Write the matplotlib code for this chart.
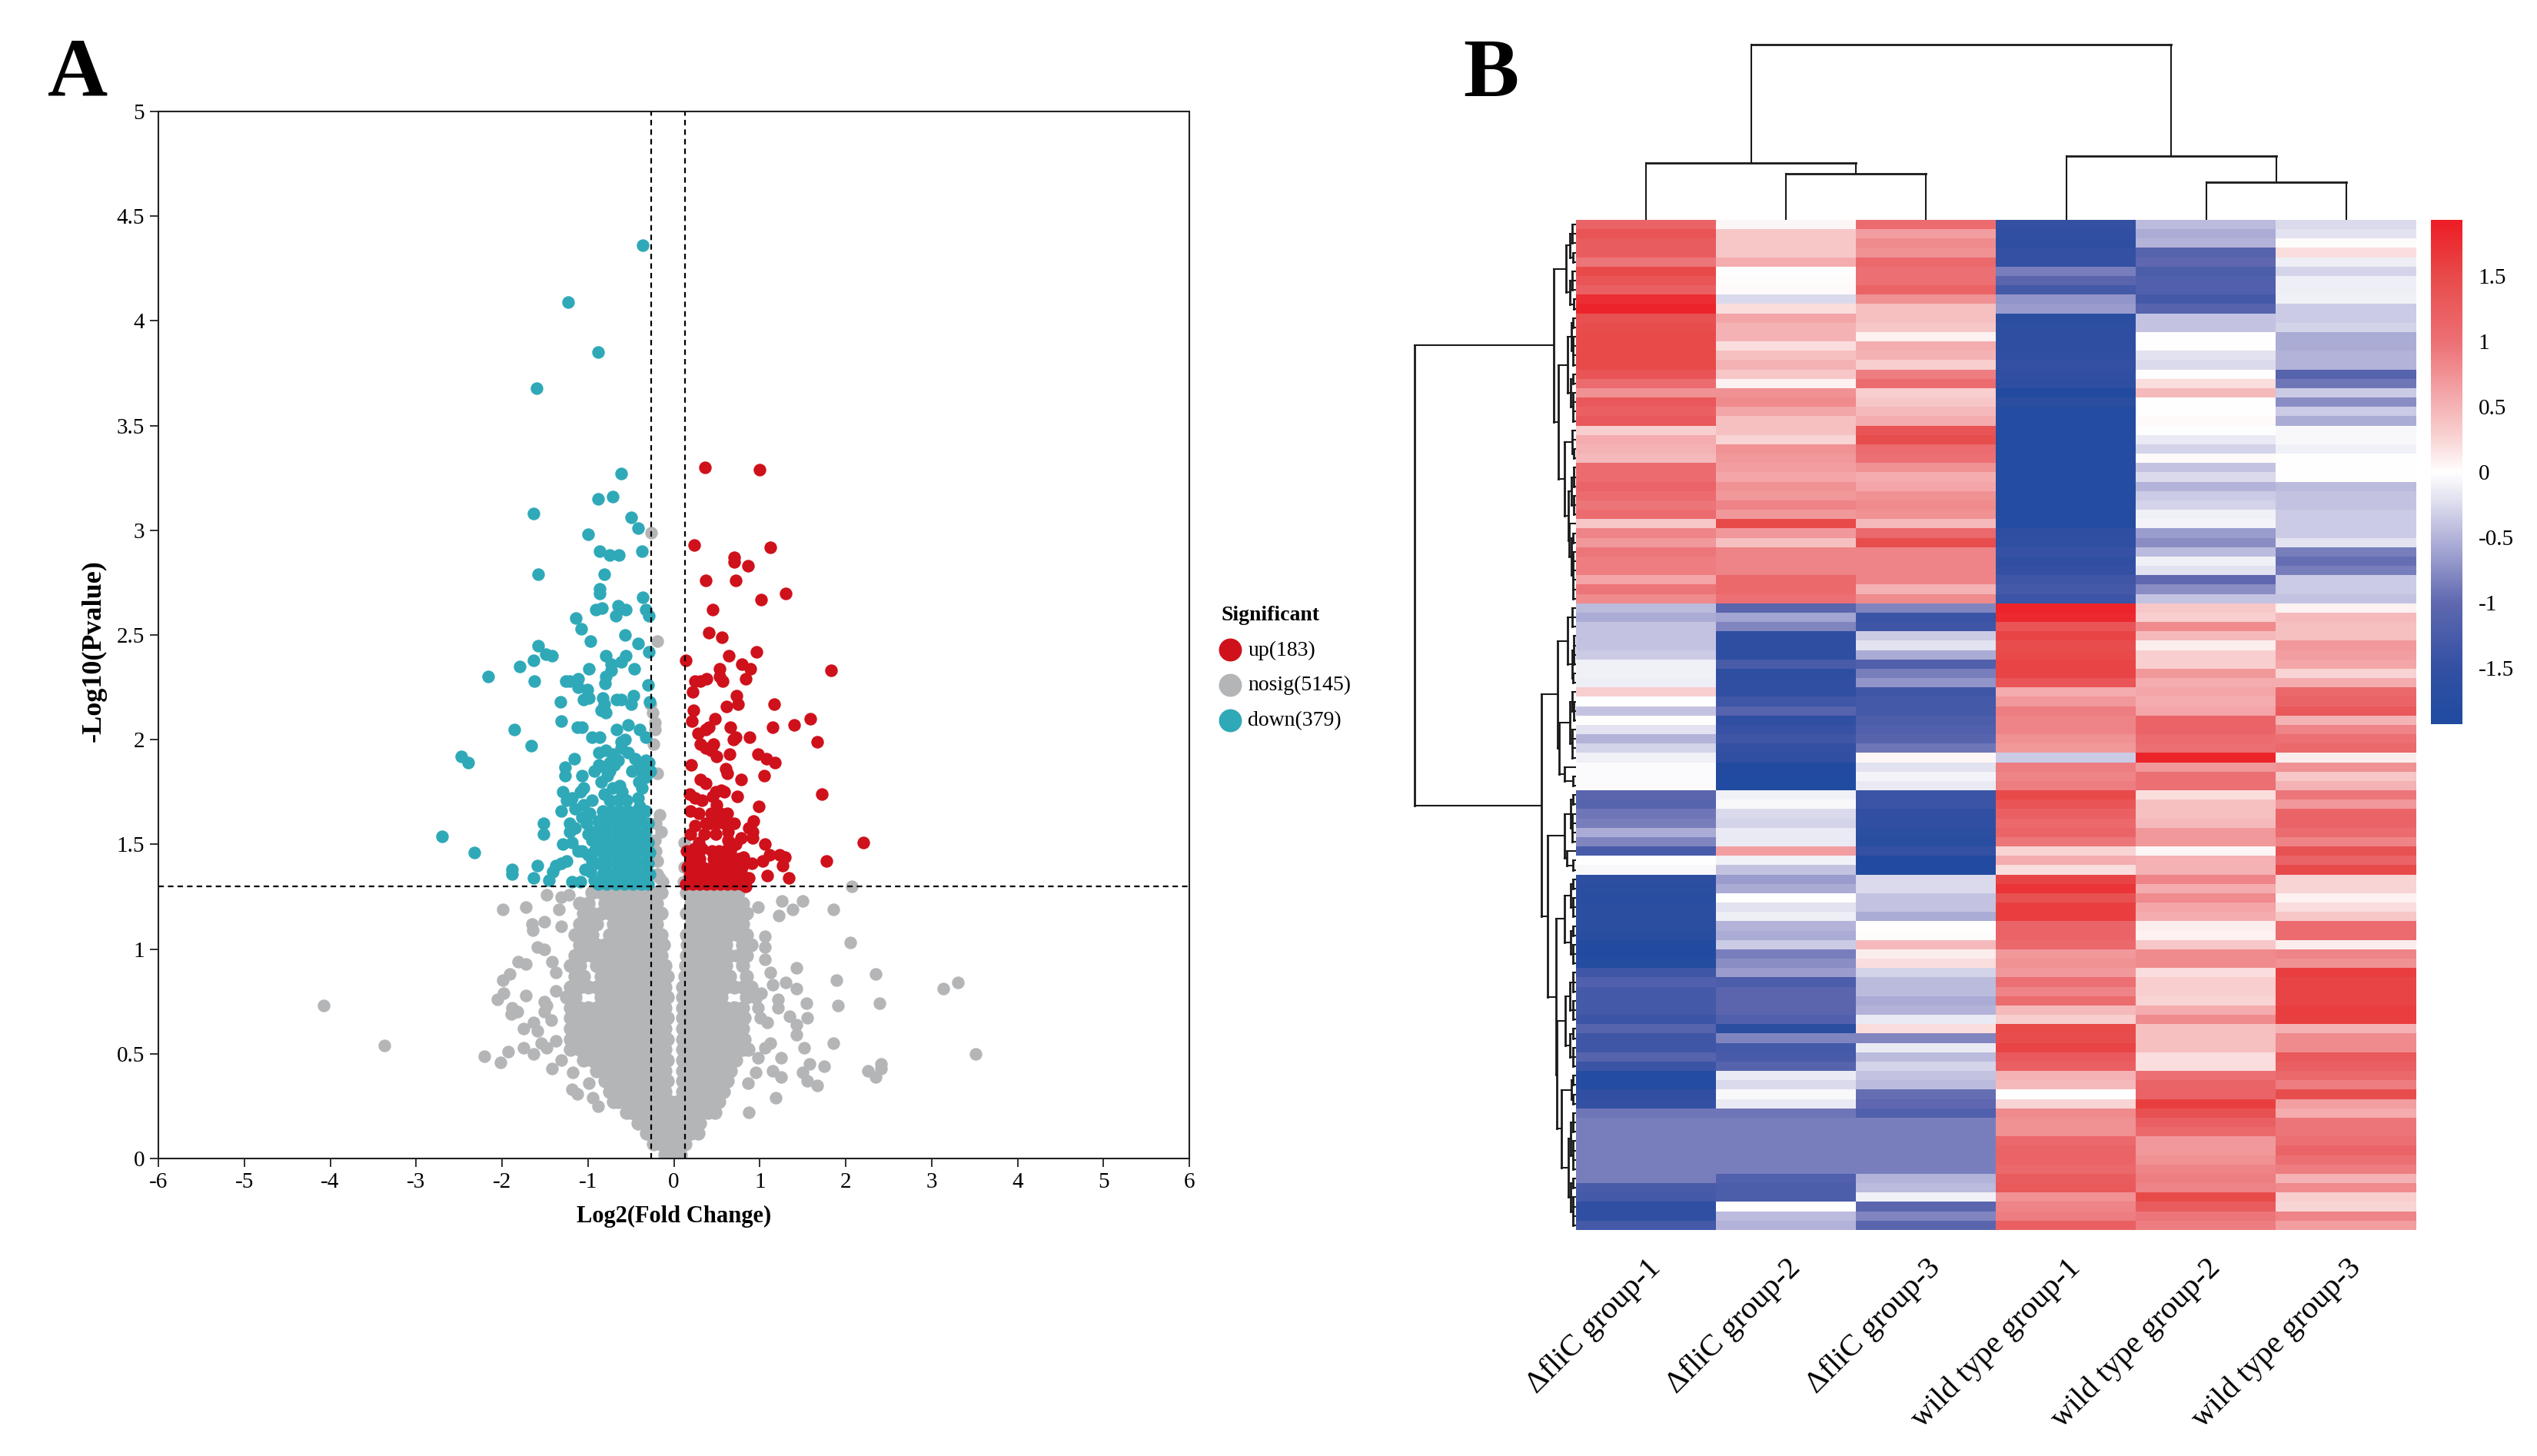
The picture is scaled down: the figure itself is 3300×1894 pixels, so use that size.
import numpy as np
import matplotlib
matplotlib.use("Agg")
import matplotlib.pyplot as plt
from matplotlib.colors import LinearSegmentedColormap

plt.rcParams['font.family'] = ['Liberation Serif', 'DejaVu Serif']

W, H = 3300, 1894

# ---- panel A, values ----
x_ticks = [-6, -5, -4, -3, -2, -1, 0, 1, 2, 3, 4, 5, 6]
x_tick_labels = ['-6', '-5', '-4', '-3', '-2', '-1', '0', '1', '2', '3', '4', '5', '6']
y_ticks = [0, 0.5, 1, 1.5, 2, 2.5, 3, 3.5, 4, 4.5, 5]
y_tick_labels = ['0', '0.5', '1', '1.5', '2', '2.5', '3', '3.5', '4', '4.5', '5']
fc_cuts = [-0.264, 0.134]
p_cut = 1.301
legend_labels = ['up(183)', 'nosig(5145)', 'down(379)']

down_points = [
    (-0.36, 4.36), (-1.23, 4.09), (-0.88, 3.85), (-1.60, 3.68), (-0.61, 3.27), (-0.88, 3.15), (-0.71, 3.16),
    (-1.63, 3.08), (-0.50, 3.06), (-0.42, 3.01), (-1.00, 2.98), (-0.86, 2.90), (-0.75, 2.88), (-0.64, 2.88),
    (-0.37, 2.90), (-1.58, 2.79), (-0.81, 2.79), (-0.86, 2.72), (-0.86, 2.70), (-0.36, 2.68), (-0.91, 2.62),
    (-0.84, 2.63), (-0.65, 2.64), (-0.56, 2.62), (-0.68, 2.59), (-0.33, 2.62), (-0.29, 2.59), (-1.14, 2.58),
    (-1.08, 2.53), (-0.97, 2.47), (-0.57, 2.50), (-0.42, 2.46), (-0.29, 2.42), (-1.58, 2.45), (-1.63, 2.38),
    (-1.49, 2.41), (-1.42, 2.40), (-1.79, 2.35), (-2.16, 2.30), (-1.62, 2.28), (-0.79, 2.40), (-0.56, 2.40),
    (-0.73, 2.36), (-0.61, 2.37), (-0.99, 2.34), (-0.46, 2.34), (-0.73, 2.33), (-0.79, 2.30), (-1.26, 2.28),
    (-1.21, 2.28), (-1.11, 2.29), (-0.80, 2.27), (-1.11, 2.25), (-1.01, 2.24), (-0.30, 2.26), (-0.99, 2.20),
    (-1.05, 2.19), (-0.47, 2.21), (-0.83, 2.20), (-0.81, 2.17), (-0.67, 2.19), (-0.61, 2.19), (-0.50, 2.17),
    (-1.32, 2.18), (-0.28, 2.18), (-0.85, 2.14), (-0.79, 2.13), (-1.31, 2.09), (-1.12, 2.06), (-1.07, 2.06),
    (-0.67, 2.05), (-0.53, 2.07), (-0.40, 2.05), (-1.86, 2.05), (-0.95, 2.01), (-0.86, 2.01), (-0.33, 2.01),
    (-1.66, 1.97), (-0.61, 1.99), (-0.57, 2.00), (-2.47, 1.92), (-2.39, 1.89), (-1.16, 1.91), (-1.27, 1.87),
    (-1.27, 1.83), (-1.07, 1.83), (-0.93, 1.85), (-0.87, 1.88), (-0.81, 1.87), (-0.75, 1.89), (-0.65, 1.90),
    (-0.77, 1.83), (-0.85, 1.80), (-0.71, 1.77), (-0.63, 1.78), (-0.49, 1.85), (-0.41, 1.89), (-0.33, 1.90),
    (-0.27, 1.85), (-0.41, 1.80), (-0.37, 1.77), (-0.87, 1.94), (-0.79, 1.95), (-0.71, 1.93), (-0.61, 1.96),
    (-0.53, 1.94), (-0.45, 1.91), (-0.29, 1.89), (-0.38, 1.85), (-0.33, 1.82), (-0.75, 1.85), (-0.69, 1.88),
    (-1.29, 1.75), (-1.05, 1.77), (-1.09, 1.75), (-1.25, 1.71), (-1.19, 1.72), (-1.15, 1.67), (-1.05, 1.69),
    (-1.31, 1.66), (-1.07, 1.63), (-0.95, 1.71), (-0.81, 1.74), (-1.21, 1.60), (-1.15, 1.58), (-1.21, 1.56),
    (-1.29, 1.50), (-1.19, 1.51), (-1.11, 1.47), (-1.07, 1.47), (-0.95, 1.52), (-0.93, 1.47), (-0.85, 1.53),
    (-1.37, 1.40), (-1.31, 1.41), (-1.25, 1.42), (-1.41, 1.37), (-1.45, 1.33), (-1.19, 1.32), (-1.09, 1.32),
    (-0.97, 1.37), (-0.93, 1.33), (-2.70, 1.54), (-2.32, 1.46), (-1.52, 1.60), (-1.52, 1.55), (-1.88, 1.38),
    (-1.88, 1.36), (-1.59, 1.40), (-1.63, 1.34), (-1.00, 1.45), (-1.00, 1.55), (-0.95, 1.42), (-1.03, 1.38),
    (-1.02, 1.60), (-0.98, 1.65),
    # the solid teal block above the threshold
    (-0.88, 1.31), (-0.78, 1.31), (-0.68, 1.31), (-0.58, 1.31), (-0.48, 1.31), (-0.38, 1.31), (-0.30, 1.31),
    (-0.83, 1.36), (-0.73, 1.36), (-0.63, 1.36), (-0.53, 1.36), (-0.43, 1.36), (-0.33, 1.36), (-0.28, 1.36),
    (-0.88, 1.41), (-0.78, 1.41), (-0.68, 1.41), (-0.58, 1.41), (-0.48, 1.41), (-0.38, 1.41), (-0.30, 1.41),
    (-0.83, 1.46), (-0.73, 1.46), (-0.63, 1.46), (-0.53, 1.46), (-0.43, 1.46), (-0.33, 1.46), (-0.28, 1.46),
    (-0.90, 1.51), (-0.78, 1.51), (-0.68, 1.51), (-0.58, 1.51), (-0.48, 1.51), (-0.38, 1.51), (-0.30, 1.51),
    (-0.93, 1.56), (-0.83, 1.56), (-0.73, 1.56), (-0.63, 1.56), (-0.53, 1.56), (-0.43, 1.56), (-0.33, 1.56),
    (-0.30, 1.60), (-0.88, 1.61), (-0.78, 1.61), (-0.68, 1.61), (-0.58, 1.61), (-0.48, 1.61), (-0.38, 1.61),
    (-0.33, 1.66), (-0.83, 1.66), (-0.73, 1.66), (-0.63, 1.66), (-0.53, 1.66), (-0.43, 1.66), (-0.40, 1.68),
    (-0.75, 1.71), (-0.65, 1.71), (-0.60, 1.75), (-0.42, 1.72), (-0.55, 1.71),
]

up_points = [
    (0.36, 3.30), (1.00, 3.29), (0.24, 2.93), (1.12, 2.92), (0.70, 2.87), (0.70, 2.85), (0.86, 2.83),
    (0.37, 2.76), (0.72, 2.76), (1.30, 2.70), (1.02, 2.67), (0.45, 2.62), (0.41, 2.51), (0.56, 2.49),
    (0.96, 2.42), (0.64, 2.40), (0.14, 2.38), (0.79, 2.36), (0.89, 2.34), (0.53, 2.34), (1.83, 2.33),
    (0.25, 2.28), (0.38, 2.29), (0.31, 2.28), (0.53, 2.30), (0.57, 2.28), (0.84, 2.29), (0.22, 2.23),
    (0.73, 2.21), (0.75, 2.17), (0.61, 2.16), (1.17, 2.17), (0.23, 2.14), (0.21, 2.09), (0.48, 2.10),
    (1.59, 2.10), (1.40, 2.07), (1.15, 2.06), (0.66, 2.06), (0.41, 2.06), (0.37, 2.05), (0.28, 2.03),
    (0.69, 2.00), (0.72, 2.01), (0.88, 2.01), (1.67, 1.99), (0.31, 1.98), (0.46, 1.98), (0.37, 1.96),
    (0.43, 1.95), (0.50, 1.92), (0.65, 1.93), (0.98, 1.93), (1.08, 1.91), (1.18, 1.89), (0.20, 1.88),
    (0.60, 1.86), (0.62, 1.84), (0.78, 1.81), (1.05, 1.83), (0.31, 1.81), (0.37, 1.79), (1.72, 1.74),
    (0.18, 1.74), (0.25, 1.72), (0.33, 1.71), (0.49, 1.75), (0.55, 1.76), (0.59, 1.75), (0.45, 1.73),
    (0.74, 1.73), (0.99, 1.68), (0.50, 1.69), (0.19, 1.66), (0.29, 1.65), (0.43, 1.65), (0.62, 1.65),
    (0.37, 1.60), (0.25, 1.59), (0.59, 1.60), (0.93, 1.61), (0.87, 1.58), (0.92, 1.56), (0.19, 1.55),
    (0.35, 1.55), (0.49, 1.55), (0.63, 1.56), (0.92, 1.53), (0.78, 1.53), (0.63, 1.52), (0.29, 1.51),
    (1.06, 1.50), (2.21, 1.51), (0.33, 1.48), (0.15, 1.47), (0.63, 1.48), (1.11, 1.45), (1.23, 1.45),
    (1.29, 1.44), (1.03, 1.42), (1.27, 1.40), (0.81, 1.44), (1.78, 1.42), (0.91, 1.41), (0.79, 1.39),
    (1.09, 1.35), (1.34, 1.34), (0.87, 1.34), (0.84, 1.30), (0.42, 1.60), (0.50, 1.60), (0.70, 1.60),
    (0.54, 1.65), (0.72, 1.50), (0.24, 1.48),
    # the solid red block above the threshold
    (0.14, 1.31), (0.22, 1.31), (0.30, 1.31), (0.38, 1.31), (0.46, 1.31), (0.54, 1.31), (0.62, 1.31), (0.70, 1.31),
    (0.78, 1.31), (0.18, 1.35), (0.26, 1.35), (0.34, 1.35), (0.42, 1.35), (0.50, 1.35), (0.58, 1.35), (0.66, 1.35),
    (0.74, 1.35), (0.80, 1.35), (0.16, 1.39), (0.24, 1.39), (0.34, 1.39), (0.44, 1.39), (0.52, 1.39), (0.60, 1.39),
    (0.68, 1.39), (0.20, 1.43), (0.30, 1.43), (0.46, 1.43), (0.54, 1.43), (0.62, 1.43), (0.70, 1.43), (0.76, 1.43),
    (0.44, 1.47), (0.52, 1.47), (0.60, 1.47), (0.66, 1.47),
]

nosig_points = [
    (-4.08, 0.73), (-3.37, 0.54), (-2.21, 0.49), (-2.02, 0.46), (-1.93, 0.51), (-1.99, 1.19), (-1.72, 1.20),
    (-1.51, 1.13), (-1.65, 1.12), (-1.64, 1.09), (-1.59, 1.01), (-1.51, 1.00), (-1.81, 0.94), (-1.72, 0.93),
    (-1.91, 0.88), (-1.99, 0.85), (-1.98, 0.79), (-2.05, 0.76), (-1.72, 0.78), (-1.88, 0.72), (-1.82, 0.70),
    (-1.89, 0.69), (-1.63, 0.65), (-1.75, 0.62), (-1.59, 0.61), (-1.75, 0.53), (-1.63, 0.50), (-1.54, 0.55),
    (-1.48, 0.53), (-1.37, 0.56), (-1.42, 0.43), (-1.31, 0.47), (-1.18, 0.41), (-1.19, 0.33), (-1.12, 0.31),
    (-0.99, 0.36), (-0.94, 0.29), (-0.88, 0.25), (-1.48, 0.73), (-1.51, 0.70), (-1.43, 0.66), (-1.42, 0.94),
    (-1.37, 0.89), (-1.51, 0.75), (-1.37, 0.80), (-1.31, 1.11), (-1.34, 1.19), (-1.31, 1.25), (-1.48, 1.26),
    (-1.22, 1.26), (1.26, 1.23), (1.50, 1.23), (1.38, 1.19), (1.22, 1.16), (1.86, 1.19), (2.07, 1.30),
    (0.98, 1.20), (1.06, 1.06), (1.06, 1.01), (2.05, 1.03), (1.06, 0.95), (1.12, 0.89), (1.43, 0.91),
    (2.35, 0.88), (1.89, 0.85), (1.30, 0.84), (1.15, 0.83), (1.43, 0.81), (3.31, 0.84), (3.14, 0.81),
    (1.02, 0.79), (1.21, 0.76), (1.21, 0.72), (1.54, 0.74), (1.91, 0.73), (2.39, 0.74), (0.98, 0.72),
    (1.01, 0.67), (1.09, 0.65), (1.35, 0.68), (1.55, 0.67), (1.43, 0.64), (1.43, 0.59), (1.86, 0.55),
    (1.12, 0.55), (1.52, 0.53), (3.51, 0.50), (1.06, 0.53), (1.25, 0.48), (0.98, 0.48), (1.58, 0.45),
    (1.75, 0.44), (2.41, 0.45), (2.26, 0.42), (2.35, 0.39), (2.41, 0.43), (1.50, 0.41), (1.55, 0.37),
    (1.67, 0.35), (1.15, 0.42), (1.25, 0.39), (0.95, 0.41), (0.86, 0.36), (1.19, 0.29), (0.87, 0.22),
    # grey points above the threshold, between the fold change cuts
    (-0.26, 2.99), (-0.19, 2.47), (-0.27, 2.17), (-0.25, 2.13), (-0.22, 2.08), (-0.22, 2.05), (-0.24, 1.98),
    (-0.19, 1.84), (-0.17, 1.64), (-0.21, 1.60), (-0.15, 1.56), (-0.21, 1.47), (-0.19, 1.42), (-0.19, 1.36),
    (-0.13, 1.32), (0.12, 1.51), (0.12, 1.39), (0.11, 1.32), (-0.22, 1.52), (-0.17, 1.34),
]

# the grey cloud is too dense to read point by point, so its core is read as rows of points
nosig_core_y = [1.27, 1.22, 1.17, 1.12, 1.07, 1.02, 0.97, 0.92, 0.87, 0.82, 0.77, 0.72, 0.67,
                0.62, 0.57, 0.52, 0.47, 0.42, 0.37, 0.32, 0.27, 0.22, 0.17, 0.12, 0.07, 0.02]
nosig_core_x = [
    [-0.95, -0.85, -0.75, -0.65, -0.55, -0.45, -0.35, -0.25, -0.15, 0.15, 0.25, 0.35, 0.45, 0.55, 0.65, 0.75],
    [-1.1, -1.0, -0.8, -0.7, -0.6, -0.5, -0.4, -0.3, -0.2, 0.2, 0.3, 0.4, 0.5, 0.6, 0.7, 0.8],
    [-1.05, -0.95, -0.85, -0.75, -0.65, -0.55, -0.45, -0.35, -0.25, -0.15, 0.15, 0.25, 0.35, 0.45, 0.55, 0.65, 0.75, 0.85],
    [-1.1, -1.0, -0.9, -0.7, -0.6, -0.5, -0.4, -0.3, -0.2, 0.2, 0.3, 0.4, 0.5, 0.6, 0.7, 0.8],
    [-1.15, -1.05, -0.95, -0.75, -0.65, -0.55, -0.45, -0.35, -0.25, -0.15, 0.15, 0.25, 0.35, 0.45, 0.55, 0.65, 0.75, 0.85],
    [-1.1, -1.0, -0.9, -0.8, -0.7, -0.6, -0.5, -0.4, -0.3, -0.2, -0.12, 0.16, 0.3, 0.4, 0.5, 0.6, 0.8, 0.9],
    [-1.15, -1.05, -0.95, -0.85, -0.75, -0.65, -0.55, -0.45, -0.35, -0.25, -0.15, 0.15, 0.25, 0.35, 0.45, 0.55, 0.65, 0.75, 0.85],
    [-1.2, -1.1, -0.9, -0.8, -0.7, -0.6, -0.5, -0.4, -0.3, -0.2, -0.1, 0.14, 0.2, 0.3, 0.4, 0.5, 0.6, 0.8],
    [-1.15, -1.05, -0.85, -0.75, -0.65, -0.55, -0.45, -0.35, -0.25, -0.15, -0.08, 0.13, 0.25, 0.35, 0.45, 0.55, 0.65, 0.85],
    [-1.2, -1.1, -1.0, -0.9, -0.8, -0.7, -0.6, -0.5, -0.4, -0.3, -0.2, -0.1, 0.1, 0.2, 0.3, 0.4, 0.5, 0.6, 0.7, 0.8, 0.9],
    [-1.25, -1.15, -0.85, -0.75, -0.65, -0.55, -0.45, -0.35, -0.25, -0.15, -0.08, 0.1, 0.15, 0.25, 0.35, 0.45, 0.55, 0.85, 0.95],
    [-1.2, -1.1, -1.0, -0.9, -0.8, -0.7, -0.6, -0.5, -0.4, -0.3, -0.2, -0.1, 0.1, 0.2, 0.3, 0.4, 0.5, 0.6, 0.7, 0.8],
    [-1.2, -1.15, -1.05, -0.95, -0.85, -0.75, -0.65, -0.55, -0.45, -0.35, -0.25, -0.15, -0.08, 0.1, 0.15, 0.25, 0.35, 0.45, 0.55, 0.65, 0.75, 0.82],
    [-1.2, -1.1, -1.0, -0.9, -0.8, -0.7, -0.6, -0.5, -0.4, -0.3, -0.2, -0.1, 0.1, 0.2, 0.3, 0.4, 0.5, 0.6, 0.7, 0.8],
    [-1.2, -1.15, -1.05, -0.95, -0.85, -0.75, -0.65, -0.55, -0.45, -0.35, -0.25, -0.15, -0.08, 0.1, 0.15, 0.25, 0.35, 0.45, 0.55, 0.65, 0.75, 0.82],
    [-1.2, -1.1, -1.0, -0.9, -0.8, -0.7, -0.6, -0.5, -0.4, -0.3, -0.2, -0.1, 0.1, 0.2, 0.3, 0.4, 0.5, 0.6, 0.7, 0.8, 0.86],
    [-1.05, -0.95, -0.85, -0.75, -0.65, -0.55, -0.45, -0.35, -0.25, -0.15, -0.08, 0.1, 0.15, 0.25, 0.35, 0.45, 0.55, 0.65, 0.72],
    [-0.9, -0.8, -0.7, -0.6, -0.5, -0.4, -0.3, -0.2, -0.1, 0.1, 0.2, 0.3, 0.4, 0.5, 0.6, 0.66],
    [-0.8, -0.75, -0.65, -0.55, -0.45, -0.35, -0.25, -0.15, -0.08, 0.1, 0.15, 0.25, 0.35, 0.45, 0.55, 0.62],
    [-0.75, -0.7, -0.6, -0.5, -0.4, -0.3, -0.2, -0.1, 0.1, 0.2, 0.3, 0.4, 0.5, 0.58],
    [-0.7, -0.65, -0.55, -0.45, -0.35, -0.25, -0.15, -0.05, 0.05, 0.15, 0.25, 0.35, 0.45, 0.52],
    [-0.55, -0.5, -0.4, -0.3, -0.2, -0.1, 0.0, 0.1, 0.2, 0.3, 0.4, 0.48],
    [-0.42, -0.35, -0.25, -0.15, -0.05, 0.05, 0.15, 0.25, 0.3],
    [-0.32, -0.3, -0.2, -0.1, 0.0, 0.1, 0.2, 0.28],
    [-0.24, -0.15, -0.05, 0.05, 0.13],
    [-0.1, 0.0, 0.08],
]

# ---- panel B, colour value per row (top to bottom) and per sample ----
sample_labels = ['\u0394fliC group-1', '\u0394fliC group-2', '\u0394fliC group-3',
                 'wild type group-1', 'wild type group-2', 'wild type group-3']

# rows 0-40 are the upper cluster, rows 41-107 the lower one
s1 = [1.15, 1.35, 1.25, 1.25, 0.95, 1.5, 1.35, 1.2, 1.75, 1.85, 1.4, 1.45, 1.5, 1.5, 1.5, 1.5, 1.35, 1.05,
      0.75, 1.3, 1.2, 1.3, 0.3, 0.55, 0.5, 0.45, 1.05, 1.05, 1.15, 1.05, 0.95, 1.05, 0.35, 0.85, 0.7, 0.95,
      0.9, 0.9, 0.6, 0.95, 0.8,
      -0.45, -0.55, -0.4, -0.4, -0.4, -0.35, -0.1, -0.1, -0.12, 0.3, 0.0, -0.4, 0.0, -0.2, -0.5, -0.3, -0.1,
      -0.03, -0.03, -0.03, -1.05, -1.1, -0.9, -0.85, -0.55, -0.8, -1.25, 0.0, -0.05, -1.6, -1.65, -1.7, -1.65,
      -1.65, -1.65, -1.7, -1.85, -1.85, -1.8, -1.35, -1.15, -1.3, -1.3, -1.3, -1.4, -1.1, -1.35, -1.35, -1.1,
      -1.4, -1.8, -1.8, -1.55, -1.5, -0.9, -0.85, -0.85, -0.85, -0.85, -0.85, -0.85, -0.85, -1.25, -1.3,
      -1.55, -1.55, -1.3]
s2 = [0.05, 0.35, 0.35, 0.35, 0.55, 0.0, 0.02, 0.03, -0.25, 0.2, 0.6, 0.5, 0.5, 0.2, 0.4, 0.5, 0.35, 0.08,
      0.75, 0.8, 0.6, 0.4, 0.4, 0.25, 0.75, 0.7, 0.65, 0.6, 0.75, 0.7, 0.85, 0.7, 1.5, 0.7, 0.4, 0.85, 0.85,
      0.85, 1.1, 1.1, 1.0,
      -1.05, -0.6, -0.8, -1.6, -1.6, -1.6, -1.25, -1.6, -1.55, -1.55, -1.35, -1.1, -1.55, -1.45, -1.35, -1.5,
      -1.55, -1.85, -1.9, -1.9, -0.1, -0.05, -0.25, -0.3, -0.15, -0.15, 0.65, -0.1, -0.4, -0.65, -0.55, 0.0,
      -0.2, -0.12, -0.5, -0.55, -0.35, -0.85, -0.75, -0.65, -1.2, -1.05, -1.05, -1.05, -1.15, -1.65, -0.8,
      -1.3, -1.25, -1.1, -0.15, -0.25, -0.05, -0.15, -0.9, -0.85, -0.85, -0.85, -0.85, -0.85, -0.85, -1.15,
      -1.2, -1.2, 0.0, -0.45, -0.5]
s3 = [1.05, 0.65, 0.8, 0.75, 1.1, 1.0, 1.0, 1.15, 0.75, 0.4, 0.4, 0.35, 0.08, 0.55, 0.5, 0.3, 0.9, 1.05, 0.3,
      0.35, 0.45, 0.55, 1.35, 1.45, 1.05, 1.0, 0.75, 0.55, 0.6, 0.75, 0.8, 0.75, 0.45, 1.1, 1.45, 0.85, 0.85,
      0.85, 0.85, 0.5, 0.8,
      -0.8, -1.4, -1.35, -0.35, -0.2, -0.55, -1.15, -0.85, -0.7, -1.35, -1.3, -1.3, -1.2, -1.15, -1.1, -0.9,
      0.05, -0.2, -0.08, -0.15, -1.4, -1.4, -1.55, -1.55, -1.65, -1.7, -1.5, -1.85, -1.85, -0.25, -0.25, -0.4,
      -0.4, -0.55, 0.0, 0.02, 0.45, 0.1, 0.2, -0.3, -0.45, -0.45, -0.55, -0.5, -0.15, 0.2, -0.8, -0.15, -0.45,
      -0.3, -0.4, -0.45, -0.95, -1.0, -1.15, -0.85, -0.85, -0.85, -0.85, -0.85, -0.85, -0.5, -0.45, -0.1,
      -1.05, -0.8, -1.05]
s4 = [-1.5, -1.55, -1.6, -1.5, -1.5, -0.85, -1.05, -1.3, -0.7, -0.65, -1.65, -1.6, -1.6, -1.6, -1.55, -1.5,
      -1.55, -1.6, -1.85, -1.65, -1.8, -1.8, -1.8, -1.8, -1.8, -1.8, -1.8, -1.8, -1.8, -1.8, -1.8, -1.8, -1.8,
      -1.6, -1.55, -1.45, -1.55, -1.5, -1.35, -1.3, -1.4,
      1.85, 1.8, 1.35, 1.55, 1.45, 1.5, 1.55, 1.55, 1.35, 0.55, 0.7, 0.9, 0.85, 0.85, 0.75, 0.7, -0.35, 0.9,
      0.85, 0.9, 1.5, 1.35, 1.2, 1.1, 1.15, 0.95, 0.25, 0.55, 0.2, 1.55, 1.7, 1.4, 1.6, 1.6, 1.15, 1.15, 1.1,
      0.7, 0.75, 0.7, 1.0, 0.85, 1.05, 0.45, 0.3, 1.5, 1.45, 1.55, 1.3, 1.2, 0.5, 0.45, 0.0, 0.25, 0.8, 0.75,
      0.75, 1.1, 1.15, 1.15, 1.1, 1.25, 1.3, 0.75, 0.85, 0.9, 1.2]
s5 = [-0.45, -0.55, -0.5, -1.1, -1.0, -1.2, -1.15, -1.15, -1.3, -1.1, -0.4, -0.4, 0.0, 0.0, -0.2, -0.25, 0.0,
      0.2, 0.45, 0.0, 0.0, 0.03, 0.0, -0.15, -0.3, 0.03, -0.4, -0.25, -0.5, -0.35, -0.3, -0.1, -0.08, -0.65,
      -0.75, -0.45, -0.1, -0.2, -1.0, -0.75, -0.4,
      0.35, 0.3, 0.8, 0.45, 0.1, 0.3, 0.3, 0.7, 0.55, 0.6, 0.55, 0.6, 1.15, 1.15, 1.05, 1.0, 1.85, 0.7, 1.0,
      1.0, 0.2, 0.4, 0.4, 0.45, 0.7, 0.7, 0.05, 0.5, 0.5, 0.85, 0.55, 0.8, 0.6, 0.55, 0.1, 0.08, 0.35, 0.8,
      0.8, 0.2, 0.3, 0.3, 0.25, 0.55, 0.8, 0.4, 0.4, 0.4, 0.2, 0.2, 1.0, 1.15, 1.15, 1.6, 1.4, 1.2, 1.1, 0.7,
      0.7, 0.75, 0.85, 0.9, 0.85, 1.5, 1.25, 0.95, 0.9]
s6 = [-0.25, -0.2, 0.02, 0.2, -0.12, -0.3, -0.12, -0.12, -0.1, -0.35, -0.35, -0.3, -0.55, -0.55, -0.5, -0.5,
      -1.1, -0.9, -0.35, -0.75, -0.35, -0.55, -0.05, -0.05, -0.1, 0.0, 0.0, 0.0, -0.45, -0.4, -0.4, -0.35,
      -0.35, -0.35, -0.2, -0.85, -0.95, -0.85, -0.35, -0.35, -0.4,
      0.08, 0.45, 0.4, 0.4, 0.7, 0.65, 0.6, 0.25, 0.55, 1.1, 1.15, 1.3, 0.5, 0.85, 1.0, 1.1, 0.1, 0.75, 0.35,
      0.5, 0.95, 0.7, 1.15, 1.15, 1.05, 0.85, 1.4, 1.15, 1.5, 0.25, 0.25, 0.08, 0.2, 0.35, 1.05, 1.05, 0.1,
      0.85, 0.75, 1.6, 1.55, 1.55, 1.55, 1.6, 1.6, 0.5, 0.8, 0.8, 1.3, 1.2, 1.1, 0.9, 1.45, 0.65, 0.55, 0.95,
      0.95, 1.0, 1.15, 1.0, 0.9, 0.5, 0.8, 0.3, 0.25, 0.85, 0.65]

cbar_ticks = [1.5, 1, 0.5, 0, -0.5, -1, -1.5]
cbar_labels = ['1.5', '1', '0.5', '0', '-0.5', '-1', '-1.5']
value_limit = 1.93

cmap_stops = [(-1.93, '#1F4BA0'), (-1.5, '#3350A3'), (-1.0, '#5F68B0'), (-0.5, '#B4B4DA'), (-0.2, '#E3E3F1'),
              (0.0, '#FFFFFF'), (0.25, '#F9D5D5'), (0.5, '#F5B3B5'), (1.0, '#EC7074'), (1.5, '#E84A4A'),
              (1.93, '#ED1C24')]

# dendrograms: (height, child, child, ...), a plain int is a leaf
col_tree = (228, (74, 0, (60, 1, 2)), (83, 3, (49, 4, 5)))
row_tree = (210,
    (29,
        (13, (8, (5, 0, 1, 2), (4, 3, 4)), (8, (5, 5, 6, 7), (3, 8, 9))),
        (23,
            (11, (6, (4, 10, 11), (4, 12, 13, 14, 15)), (7, (4, 16, 17), (4, 18, 19, 20, 21))),
            (15,
                (5, 22, 23, (3, 24, 25)),
                (10, (6, (3, 26, 27, 28), (3, 29, 30, 31)),
                     (9, 32, (6, (4, 33, 34), (4, 35, 36, 37, 38, 39, 40))))))),
    (45,
        (24,
            (11, (5, 41, 42, 43), (5, (3, 44, 45, 46, 47), (4, 48, 49))),
            (22, (8, (5, 50, (3, 51, 52, 53)), (5, 54, 55, 56, 57)), (15, 58, (4, 59, 60)))),
        (37,
            (15, (7, (4, 61, 62), (5, 63, 64, 65, 66)), (12, 67, (4, 68, 69))),
            (26,
                (15, (7, (4, 70, 71), (4, 72, 73, 74)), (7, (4, 75, 76), (4, 77, 78, 79))),
                (25,
                    (14, (8, (4, 80, 81, 82), (4, 83, 84, 85)), (8, (4, 86, 87), (4, 88, 89, 90))),
                    (19, (6, (4, 91, 92), (4, 93, 94)),
                         (10, (7, (4, 95, 96, 97), (4, 98, 99, 100, 101)),
                              (7, (4, 102, 103), (4, 104, 105, 106, 107))))))))
)


def add_axes_px(fig, left, top, right, bottom):
    return fig.add_axes([left / W, 1 - bottom / H, (right - left) / W, (bottom - top) / H])


def draw_tree(ax, node, horizontal):
    # returns the position of the node along the leaf axis and its height
    if isinstance(node, int):
        return node + 0.5, 0
    height = node[0]
    kids = [draw_tree(ax, c, horizontal) for c in node[1:]]
    first, last = kids[0][0], kids[-1][0]
    for pos, h in kids:
        if horizontal:
            ax.plot([pos, pos], [h, height], color='#1a1a1a', lw=1.5, solid_capstyle='projecting')
        else:
            ax.plot([h, height], [pos, pos], color='#1a1a1a', lw=1.5, solid_capstyle='projecting')
    if horizontal:
        ax.plot([first, last], [height, height], color='#1a1a1a', lw=2.0, solid_capstyle='projecting')
    else:
        ax.plot([height, height], [first, last], color='#1a1a1a', lw=2.0, solid_capstyle='projecting')
    return (first + last) / 2, height


def draw_volcano(fig):
    ax = add_axes_px(fig, 206, 145, 1547, 1507)

    core_x, core_y = [], []
    for y, xs in zip(nosig_core_y, nosig_core_x):
        core_x.extend(xs)
        core_y.extend([y] * len(xs))
    nx, ny = zip(*nosig_points)
    ux, uy = zip(*up_points)
    dx, dy = zip(*down_points)

    size = 140
    ax.scatter(core_x, core_y, s=175, color='#B4B5B7', linewidths=0, zorder=2)
    ax.scatter(ux, uy, s=size, color='#CF111B', linewidths=0, zorder=3, label=legend_labels[0])
    ax.scatter(nx, ny, s=size, color='#B4B5B7', linewidths=0, zorder=2, label=legend_labels[1])
    ax.scatter(dx, dy, s=size, color='#2FA9B8', linewidths=0, zorder=3, label=legend_labels[2])

    for cut in fc_cuts:
        ax.axvline(cut, color='black', lw=1.6, ls=(0, (3.2, 2.4)), zorder=4)
    ax.axhline(p_cut, color='black', lw=1.6, ls=(0, (3.2, 2.4)), zorder=4)

    ax.set_xlim(-6, 6)
    ax.set_ylim(0, 5)
    ax.set_xticks(x_ticks)
    ax.set_xticklabels(x_tick_labels)
    ax.set_yticks(y_ticks)
    ax.set_yticklabels(y_tick_labels)
    ax.tick_params(axis='both', labelsize=21, length=8, width=1.3, color='#222222', pad=5)
    for spine in ax.spines.values():
        spine.set_linewidth(1.5)
        spine.set_color('#222222')

    ax.set_xlabel('Log2(Fold Change)', fontsize=22, fontweight='bold', labelpad=12)
    ax.set_ylabel('-Log10(Pvalue)', fontsize=26, fontweight='bold')
    ax.yaxis.set_label_coords(-0.05, 0.485)

    ax.legend(title='Significant', loc='upper left', bbox_to_anchor=(1.0313, 0.528), frameon=False,
              fontsize=20, title_fontproperties={'weight': 'bold', 'size': 20}, markerscale=1.82,
              labelspacing=0.73, handlelength=0.8, handletextpad=0.43, borderpad=0, borderaxespad=0,
              alignment='left')
    return ax


def draw_heatmap(fig):
    ax = add_axes_px(fig, 2050, 286, 3143, 1600)
    data = np.column_stack([s1, s2, s3, s4, s5, s6])
    stops = [((v + value_limit) / (2 * value_limit), c) for v, c in cmap_stops]
    cmap = LinearSegmentedColormap.from_list('blue_white_red', stops, N=512)
    im = ax.imshow(data, cmap=cmap, vmin=-value_limit, vmax=value_limit, aspect='auto',
                   interpolation='nearest', extent=(0, 6, data.shape[0], 0))
    ax.set_xticks(np.arange(len(sample_labels)) + 0.5)
    ax.set_xticklabels(sample_labels, rotation=45, ha='right', rotation_mode='anchor', fontsize=29.5)
    ax.set_yticks([])
    ax.tick_params(axis='x', length=0, pad=22)
    for spine in ax.spines.values():
        spine.set_visible(False)

    top = add_axes_px(fig, 2050, 50, 3143, 286)
    draw_tree(top, col_tree, True)
    top.set_xlim(0, 6)
    top.set_ylim(0, 236)
    top.axis('off')

    left = add_axes_px(fig, 1835, 286, 2050, 1600)
    draw_tree(left, row_tree, False)
    left.set_ylim(data.shape[0], 0)
    left.set_xlim(215, 0)
    left.axis('off')

    cax = add_axes_px(fig, 3162, 286, 3203, 942)
    cb = fig.colorbar(im, cax=cax)
    cb.set_ticks(cbar_ticks)
    cb.set_ticklabels(cbar_labels)
    cb.ax.tick_params(length=0, labelsize=21, pad=15)
    cb.outline.set_visible(False)


def main():
    fig = plt.figure(figsize=(W / 100, H / 100), dpi=100)
    draw_volcano(fig)
    draw_heatmap(fig)
    fig.text(62 / W, 1 - 125 / H, 'A', fontsize=78, fontweight='bold', ha='left', va='baseline')
    fig.text(1903 / W, 1 - 125 / H, 'B', fontsize=78, fontweight='bold', ha='left', va='baseline')
    fig.savefig('out.png', dpi=100)
    plt.close(fig)


if __name__ == "__main__":
    main()
